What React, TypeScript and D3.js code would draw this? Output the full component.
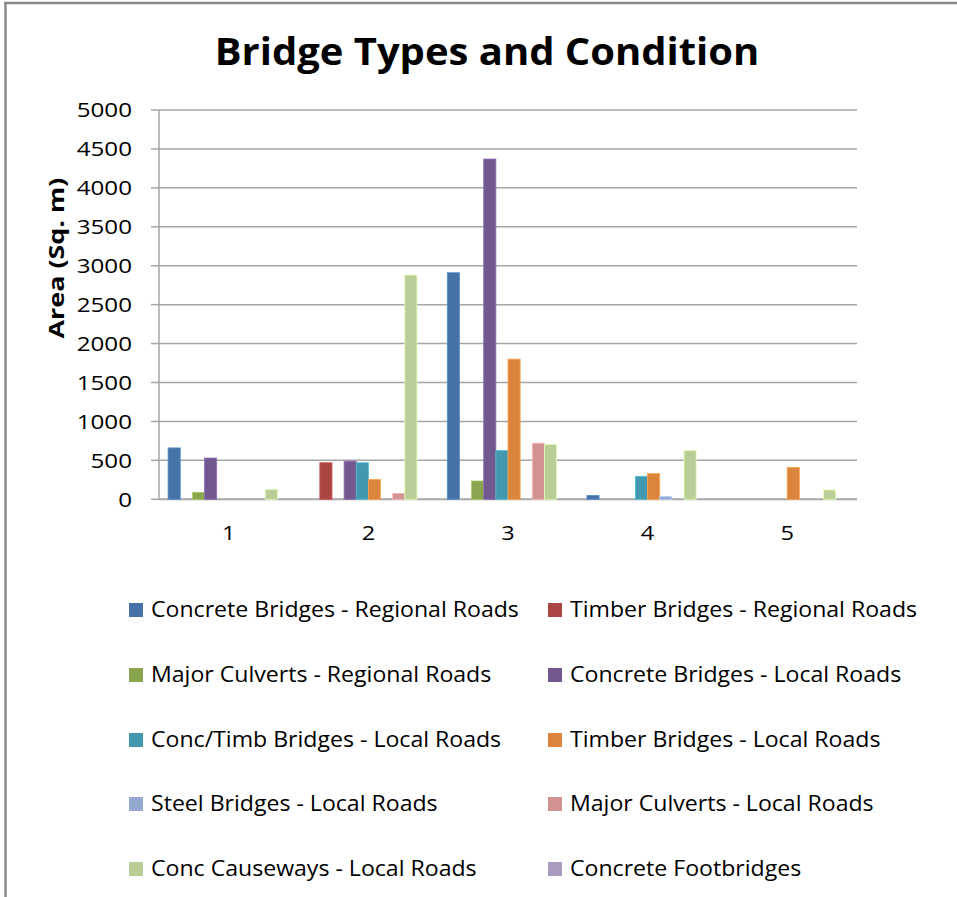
import React from "react";
import * as d3 from "d3";

const categories = ["1", "2", "3", "4", "5"];
const seriesNames = [
  "Concrete Bridges - Regional Roads",
  "Timber Bridges - Regional Roads",
  "Major Culverts - Regional Roads",
  "Concrete Bridges - Local Roads",
  "Conc/Timb Bridges - Local Roads",
  "Timber Bridges - Local Roads",
  "Steel Bridges - Local Roads",
  "Major Culverts - Local Roads",
  "Conc Causeways - Local Roads",
  "Concrete Footbridges",
];
const concreteBridgesRegional = [660, 0, 2910, 50, 0];
const timberBridgesRegional = [0, 470, 0, 0, 0];
const majorCulvertsRegional = [90, 0, 235, 0, 0];
const concreteBridgesLocal = [530, 490, 4370, 0, 0];
const concTimbBridgesLocal = [0, 470, 625, 295, 0];
const timberBridgesLocal = [0, 255, 1800, 330, 410];
const steelBridgesLocal = [0, 0, 0, 35, 0];
const majorCulvertsLocal = [0, 75, 720, 0, 0];
const concCausewaysLocal = [125, 2880, 705, 625, 120];
const concreteFootbridges = [0, 0, 0, 0, 0];
const seriesValues = [
  concreteBridgesRegional,
  timberBridgesRegional,
  majorCulvertsRegional,
  concreteBridgesLocal,
  concTimbBridgesLocal,
  timberBridgesLocal,
  steelBridgesLocal,
  majorCulvertsLocal,
  concCausewaysLocal,
  concreteFootbridges,
];
const colors = [
  "#4572A7", "#AA4643", "#89A54E", "#71588F", "#4198AF",
  "#DB843D", "#93A9CF", "#D19392", "#B9CD96", "#A99BBD",
];
const yTicks = [0, 500, 1000, 1500, 2000, 2500, 3000, 3500, 4000, 4500, 5000];

const W = 957;
const H = 897;
const plot = { left: 159, right: 857, top: 110, bottom: 499.3 };
const FONT = "'Open Sans', sans-serif";

export default function App() {
  const x0 = d3.scaleBand<string>().domain(categories).range([plot.left, plot.right]).paddingInner(0).paddingOuter(0);
  const x1 = d3
    .scaleBand<number>()
    .domain(d3.range(seriesNames.length))
    .range([0, x0.bandwidth()])
    .paddingInner(0)
    .paddingOuter(0.75);
  const y = d3.scaleLinear().domain([0, 5000]).range([plot.bottom, plot.top]);

  const legendRows = [610, 675, 740, 804, 869];
  const legendCols = [129, 548];

  return (
    <svg
      width={W}
      height={H}
      style={{ position: "absolute", left: 0, top: 0, background: "#fff" }}
      fontFamily={FONT}
    >
      <rect x={0} y={0} width={W} height={H} fill="#fff" />
      <line x1={5.5} y1={3} x2={5.5} y2={H} stroke="#8a8a8a" strokeWidth={2.5} />
      <line x1={4} y1={3} x2={W} y2={3} stroke="#8a8a8a" strokeWidth={2.5} />

      <text
        transform="translate(487,65) scale(1.08,1)"
        textAnchor="middle"
        fontSize={37}
        fontWeight={700}
        fill="#000"
      >
        Bridge Types and Condition
      </text>

      {yTicks.map((t) => (
        <g key={t}>
          <line
            x1={plot.left}
            x2={plot.right}
            y1={y(t)}
            y2={y(t)}
            stroke="#a6a6a6"
            strokeWidth={t === 0 ? 2 : 1.5}
          />
          <line x1={plot.left - 8} x2={plot.left} y1={y(t)} y2={y(t)} stroke="#a6a6a6" strokeWidth={1.5} />
          <text
            transform={`translate(132,${y(t)}) scale(1.18,1)`}
            dy="0.36em"
            textAnchor="end"
            fontSize={20.5}
            fill="#000"
          >
            {t}
          </text>
        </g>
      ))}
      <line x1={plot.left} x2={plot.left} y1={plot.top} y2={plot.bottom} stroke="#a6a6a6" strokeWidth={1.5} />

      <text
        transform={`translate(64,258) rotate(-90) scale(1.25,1)`}
        textAnchor="middle"
        fontSize={21.5}
        fontWeight={700}
        fill="#000"
      >
        Area (Sq. m)
      </text>

      {categories.map((c, ci) => (
        <g key={c}>
          {seriesValues.map((vals, si) =>
            vals[ci] > 0 ? (
              <rect
                key={si}
                x={(x0(c) as number) + (x1(si) as number)}
                y={y(vals[ci])}
                width={x1.bandwidth()}
                height={y(0) - y(vals[ci])}
                fill={colors[si]}
                stroke={d3.color(colors[si])!.brighter(0.6).formatHex()}
                strokeWidth={0.8}
              />
            ) : null
          )}
          <text
            transform={`translate(${(x0(c) as number) + x0.bandwidth() / 2},540) scale(1.15,1)`}
            textAnchor="middle"
            fontSize={20.5}
            fill="#000"
          >
            {c}
          </text>
        </g>
      ))}

      {seriesNames.map((name, i) => {
        const col = i % 2;
        const row = Math.floor(i / 2);
        const lx = legendCols[col];
        const ly = legendRows[row];
        return (
          <g key={name}>
            <rect x={lx} y={ly - 7} width={14} height={14} fill={colors[i]} />
            <text
              transform={`translate(${lx + 22},${ly}) scale(1.1,1)`}
              dy="0.35em"
              fontSize={21}
              fill="#000"
            >
              {name}
            </text>
          </g>
        );
      })}
    </svg>
  );
}
